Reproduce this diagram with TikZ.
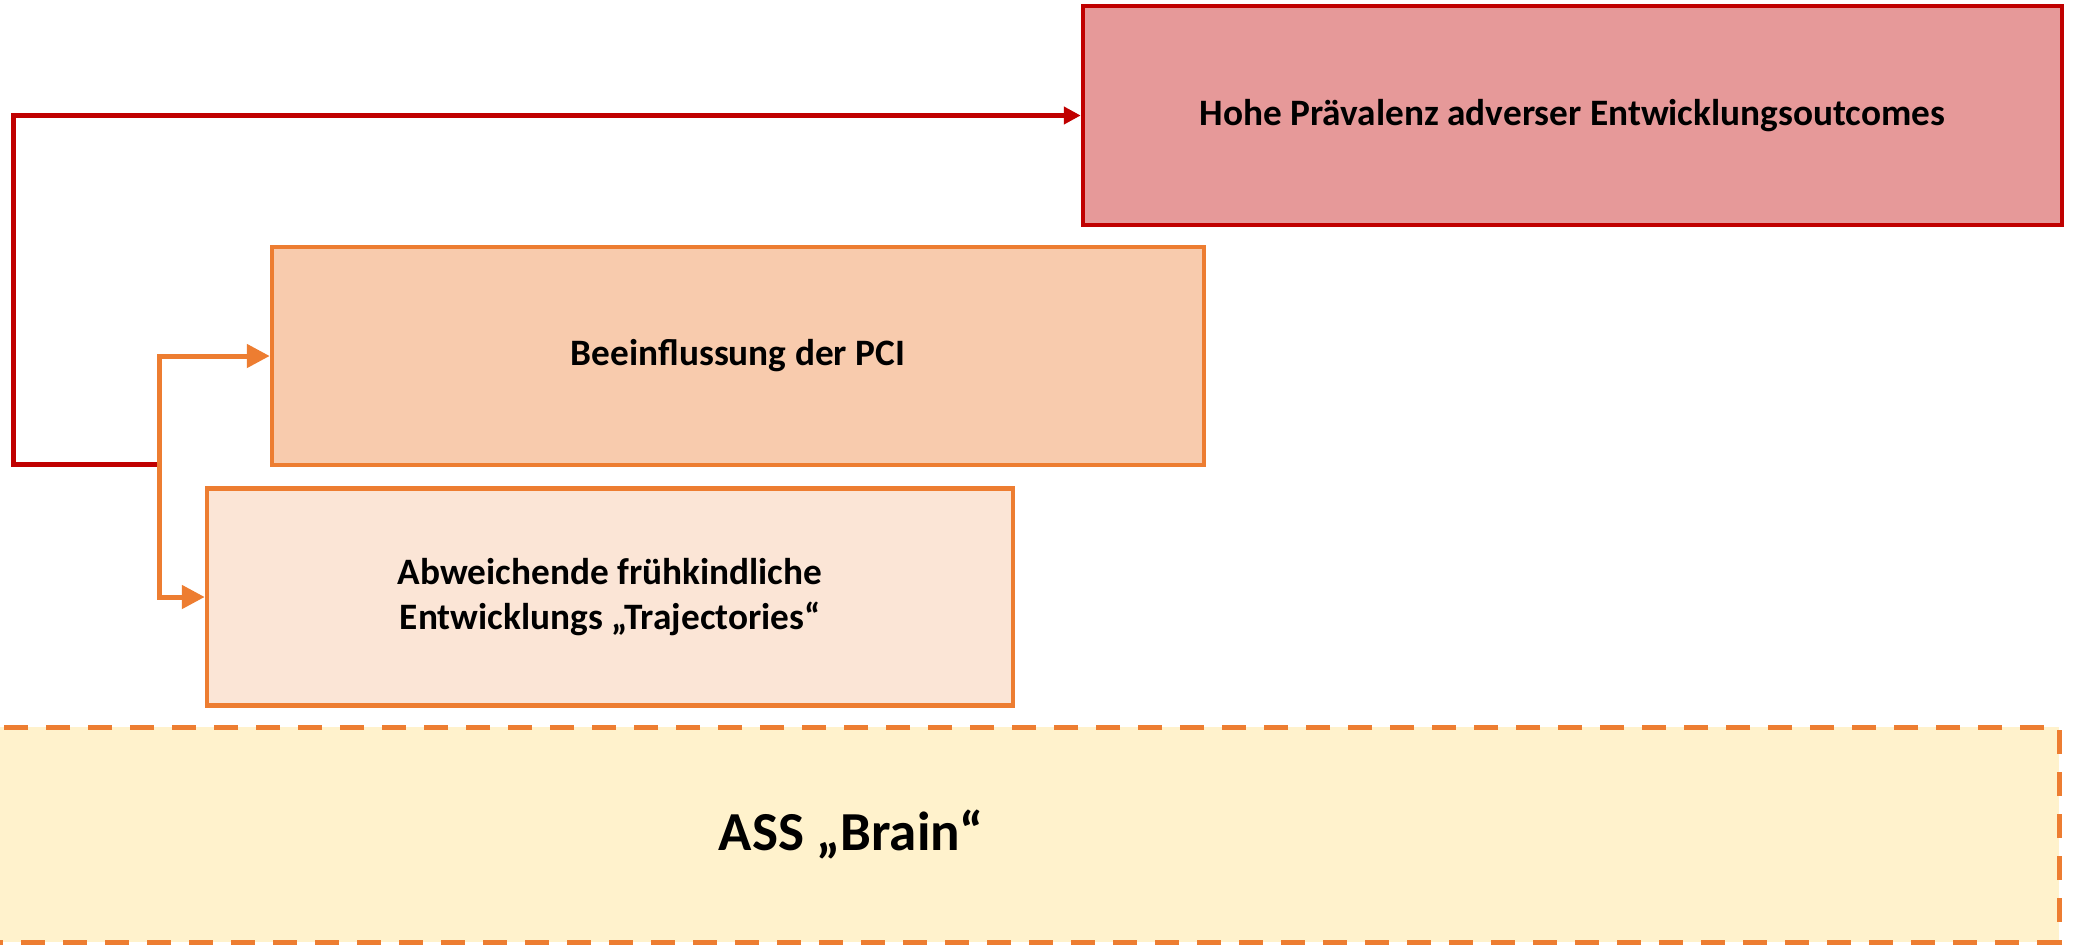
\documentclass[tikz,border=0pt]{standalone}
\usepackage{fontspec}
\setmainfont{Carlito}
\usetikzlibrary{arrows.meta}
\definecolor{redline}{HTML}{C00000}
\definecolor{redfill}{HTML}{E69999}
\definecolor{orline}{HTML}{ED7D31}
\definecolor{pcifill}{HTML}{F8CBAD}
\definecolor{abwfill}{HTML}{FBE5D6}
\definecolor{assfill}{HTML}{FFF2CC}
\tikzset{
  box/.style={draw, line width=4.5pt, inner sep=0pt, align=center, font=\fontsize{37.3}{45}\selectfont\bfseries},
  redconn/.style={draw=redline, line width=5pt, -{Triangle[length=17pt,width=17pt]}},
  orconn/.style={draw=orline, line width=5pt, -{Triangle[length=23pt,width=23pt]}},
}
\begin{document}
\begin{tikzpicture}[x=1pt,y=-1pt]
\useasboundingbox (0,0) rectangle (2077,946);
\clip (0,0) rectangle (2077,946);
\node[box, draw=redline, fill=redfill, minimum width=979pt, minimum height=219pt] (hohe) at (1572.5,115.5) {Hohe Prävalenz adverser Entwicklungsoutcomes};
\node[box, draw=orline, fill=pcifill, minimum width=932pt, minimum height=218pt] (pci) at (738,356) {Beeinflussung der PCI};
\node[box, draw=orline, fill=abwfill, minimum width=806pt, minimum height=217pt] (abw) at (610,597) {Abweichende frühkindliche\\Entwicklungs „Trajectories“};
\node[box, draw=orline, fill=assfill, line width=5pt, dash pattern=on 24pt off 18pt, minimum width=2416pt, minimum height=215pt, font=\fontsize{55}{64}\selectfont\bfseries] (ass) at (851,834.5) {ASS „Brain“};
\coordinate (rs) at (158,464);
\coordinate (oj) at (159,480);
\draw[redconn] (rs) -- (13,464) |- (hohe.west);
\draw[orconn] (oj) |- (pci.west);
\draw[orconn] (oj) |- (abw.west);
\end{tikzpicture}
\end{document}
